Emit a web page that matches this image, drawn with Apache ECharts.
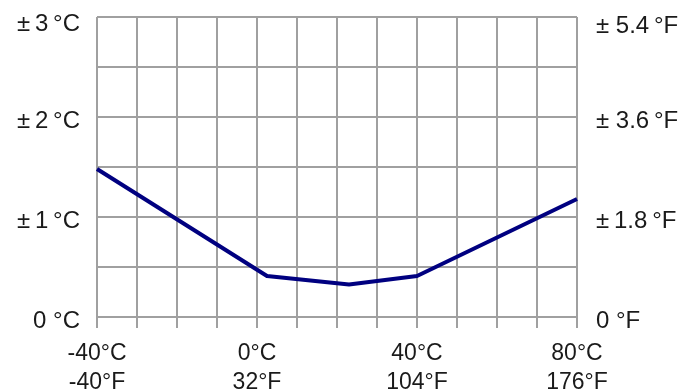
<!DOCTYPE html>
<html>
<head>
<meta charset="utf-8">
<script src="https://cdn.jsdelivr.net/npm/echarts@6/dist/echarts.min.js"></script>
<style>html,body{margin:0;padding:0;background:#fff}#c{width:692px;height:392px}</style>
</head>
<body>
<div id="c"></div>
<script>
// Data
const tempC = [-40, 2.5, 23, 40, 80];
const accuracyC = [1.48, 0.41, 0.325, 0.41, 1.18];

// Tick labels
const xTickValues = [-40, 0, 40, 80];
const xLabelsC = ['-40°C', '0°C', '40°C', '80°C'];
const xLabelsF = ['-40°F', '32°F', '104°F', '176°F'];
const yLeftValues = [0, 1, 2, 3];
const yLeftLabels = ['0 °C', '±\u20091\u2009°C', '±\u20092\u2009°C', '±\u20093\u2009°C'];
const yRightValues = [0, 1.8, 3.6, 5.4];
const yRightLabels = ['0 °F', '±\u20091.8\u2009°F', '± 3.6\u2009°F', '± 5.4\u2009°F'];

const GRID = '#a0a0a0';
const TXT = '#1a1a1a';
const FONT = '"Liberation Sans", Arial, sans-serif';

function findIdx(arr, v) {
  for (let i = 0; i < arr.length; i++) if (Math.abs(arr[i] - v) < 1e-6) return i;
  return -1;
}

const chart = echarts.init(document.getElementById('c'), null, {renderer: 'canvas'});
chart.setOption({
  animation: false,
  backgroundColor: '#fff',
  grid: {left: 97, right: 115, top: 17, bottom: 75, containLabel: false, outerBoundsMode: 'none'},
  xAxis: {
    type: 'value', min: -40, max: 80, interval: 10,
    axisLine: {show: false},
    axisTick: {show: true, length: 11, lineStyle: {color: GRID, width: 2}},
    splitLine: {show: true, lineStyle: {color: GRID, width: 2}},
    axisLabel: {
      show: true, margin: 22, color: TXT, fontFamily: FONT, fontSize: 23, lineHeight: 29,
      showMinLabel: true, showMaxLabel: true,
      formatter: function (v) {
        const i = findIdx(xTickValues, v);
        return i < 0 ? '' : xLabelsC[i] + '\n' + xLabelsF[i];
      }
    }
  },
  yAxis: [{
    type: 'value', min: 0, max: 3, interval: 0.5, position: 'left',
    axisLine: {show: false},
    axisTick: {show: true, length: 11, lineStyle: {color: GRID, width: 2}},
    splitLine: {show: true, lineStyle: {color: GRID, width: 2}},
    axisLabel: {
      show: true, margin: 17, color: TXT, fontFamily: FONT, fontSize: 24,
      showMinLabel: true, showMaxLabel: true,
      formatter: function (v) {
        const i = findIdx(yLeftValues, v);
        if (i < 0) return '';
        return i === yLeftValues.length - 1 ? '{t|' + yLeftLabels[i] + '}' : '{n|' + yLeftLabels[i] + '}';
      },
      rich: {
        n: {fontSize: 24, fontFamily: FONT, color: TXT, padding: [8, 0, 0, 0]},
        t: {fontSize: 24, fontFamily: FONT, color: TXT, padding: [14, 0, 0, 0]}
      }
    }
  }, {
    type: 'value', min: 0, max: 5.4, interval: 1.8, position: 'right',
    axisLine: {show: false}, axisTick: {show: false}, splitLine: {show: false},
    axisLabel: {
      show: true, margin: 19, color: TXT, fontFamily: FONT, fontSize: 24,
      showMinLabel: true, showMaxLabel: true,
      formatter: function (v) {
        const i = findIdx(yRightValues, v);
        if (i < 0) return '';
        return i === yRightValues.length - 1 ? '{t|' + yRightLabels[i] + '}' : '{n|' + yRightLabels[i] + '}';
      },
      rich: {
        n: {fontSize: 24, fontFamily: FONT, color: TXT, padding: [8, 0, 0, 0]},
        t: {fontSize: 24, fontFamily: FONT, color: TXT, padding: [18, 0, 0, 0]}
      }
    }
  }],
  series: [{
    type: 'line',
    data: tempC.map((x, i) => [x, accuracyC[i]]),
    showSymbol: false, symbol: 'none',
    lineStyle: {color: '#000080', width: 4, join: 'round'},
    z: 5
  }]
});
</script>
</body>
</html>
